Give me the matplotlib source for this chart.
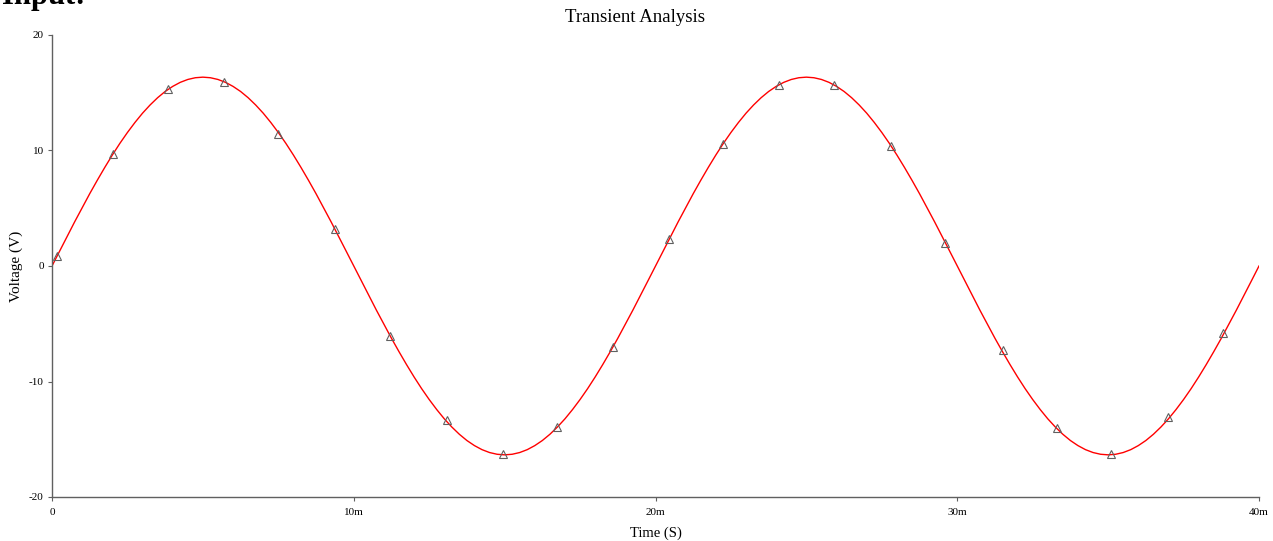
import numpy as np
import matplotlib
matplotlib.use("Agg")
import matplotlib.pyplot as plt

# Кривая напряжения (шаг 0.25 мс)
time_ms = [i * 0.25 for i in range(161)]
voltage = [
    0.0, 1.28, 2.56, 3.82, 5.05, 6.26, 7.42, 8.54, 9.61, 10.62,
    11.56, 12.43, 13.23, 13.94, 14.57, 15.11, 15.55, 15.90, 16.15, 16.30,
    16.35, 16.30, 16.15, 15.90, 15.55, 15.11, 14.57, 13.94, 13.23, 12.43,
    11.56, 10.62, 9.61, 8.54, 7.42, 6.26, 5.05, 3.82, 2.56, 1.28,
    0.0, -1.28, -2.56, -3.82, -5.05, -6.26, -7.42, -8.54, -9.61, -10.62,
    -11.56, -12.43, -13.23, -13.94, -14.57, -15.11, -15.55, -15.90, -16.15, -16.30,
    -16.35, -16.30, -16.15, -15.90, -15.55, -15.11, -14.57, -13.94, -13.23, -12.43,
    -11.56, -10.62, -9.61, -8.54, -7.42, -6.26, -5.05, -3.82, -2.56, -1.28,
    0.0, 1.28, 2.56, 3.82, 5.05, 6.26, 7.42, 8.54, 9.61, 10.62,
    11.56, 12.43, 13.23, 13.94, 14.57, 15.11, 15.55, 15.90, 16.15, 16.30,
    16.35, 16.30, 16.15, 15.90, 15.55, 15.11, 14.57, 13.94, 13.23, 12.43,
    11.56, 10.62, 9.61, 8.54, 7.42, 6.26, 5.05, 3.82, 2.56, 1.28,
    0.0, -1.28, -2.56, -3.82, -5.05, -6.26, -7.42, -8.54, -9.61, -10.62,
    -11.56, -12.43, -13.23, -13.94, -14.57, -15.11, -15.55, -15.90, -16.15, -16.30,
    -16.35, -16.30, -16.15, -15.90, -15.55, -15.11, -14.57, -13.94, -13.23, -12.43,
    -11.56, -10.62, -9.61, -8.54, -7.42, -6.26, -5.05, -3.82, -2.56, -1.28,
    0.0,
]

# Маркеры-треугольники
marker_ms = [0.17, 2.02, 3.84, 5.7, 7.5, 9.37, 11.2, 13.1, 14.95, 16.75, 18.6,
             20.45, 22.25, 24.1, 25.9, 27.8, 29.6, 31.5, 33.3, 35.1, 37.0, 38.8]
marker_v = [0.9, 9.7, 15.3, 15.9, 11.4, 3.2, -6.1, -13.3, -16.3, -13.9, -7.0,
            2.3, 10.6, 15.7, 15.7, 10.4, 2.0, -7.3, -14.0, -16.3, -13.1, -5.8]

x_ticks = [0, 10, 20, 30, 40]
x_labels = ["0", "10m", "20m", "30m", "40m"]
y_ticks = [-20, -10, 0, 10, 20]

plt.rcParams['font.family'] = ['Liberation Serif', 'DejaVu Serif']
plt.rcParams['axes.unicode_minus'] = False

fig = plt.figure(figsize=(12.73, 5.41), dpi=100)
ax = fig.add_axes([52 / 1273, 1 - 497 / 541, (1259 - 52) / 1273, (497 - 35) / 541])

ax.plot(time_ms, voltage, color="red", linewidth=1.0)
ax.plot(marker_ms, marker_v, linestyle="none", marker="^", markersize=5.5,
        markerfacecolor="none", markeredgecolor="#606060", markeredgewidth=0.8)

ax.set_xlim(0, 40)
ax.set_ylim(-20, 20)
ax.set_xticks(x_ticks)
ax.set_xticklabels(x_labels)
ax.set_yticks(y_ticks)
ax.tick_params(labelsize=8, length=3, width=0.8, color="#606060")
ax.tick_params(axis="x", pad=5)
ax.tick_params(axis="y", pad=3)

for side in ["top", "right"]:
    ax.spines[side].set_visible(False)
for side in ["left", "bottom"]:
    ax.spines[side].set_color("#606060")
    ax.spines[side].set_linewidth(1.0)

fig.text(635 / 1273, 1 - 18 / 541, "Transient Analysis", fontsize=13.5,
         ha="center", va="center")
ax.set_xlabel("Time (S)", fontsize=10.5)
ax.xaxis.set_label_coords(0.5, -(533 - 497) / (497 - 35))
ax.xaxis.label.set_va("center")
ax.set_ylabel("Voltage (V)", fontsize=11)
ax.yaxis.set_label_coords(-(52 - 16) / (1259 - 52), 0.5)
ax.yaxis.label.set_va("center")

fig.text(2 / 1273, 1 - 4 / 541, "Input:", fontsize=22, fontweight="bold",
         ha="left", va="baseline")

fig.savefig("out.png", dpi=100)
